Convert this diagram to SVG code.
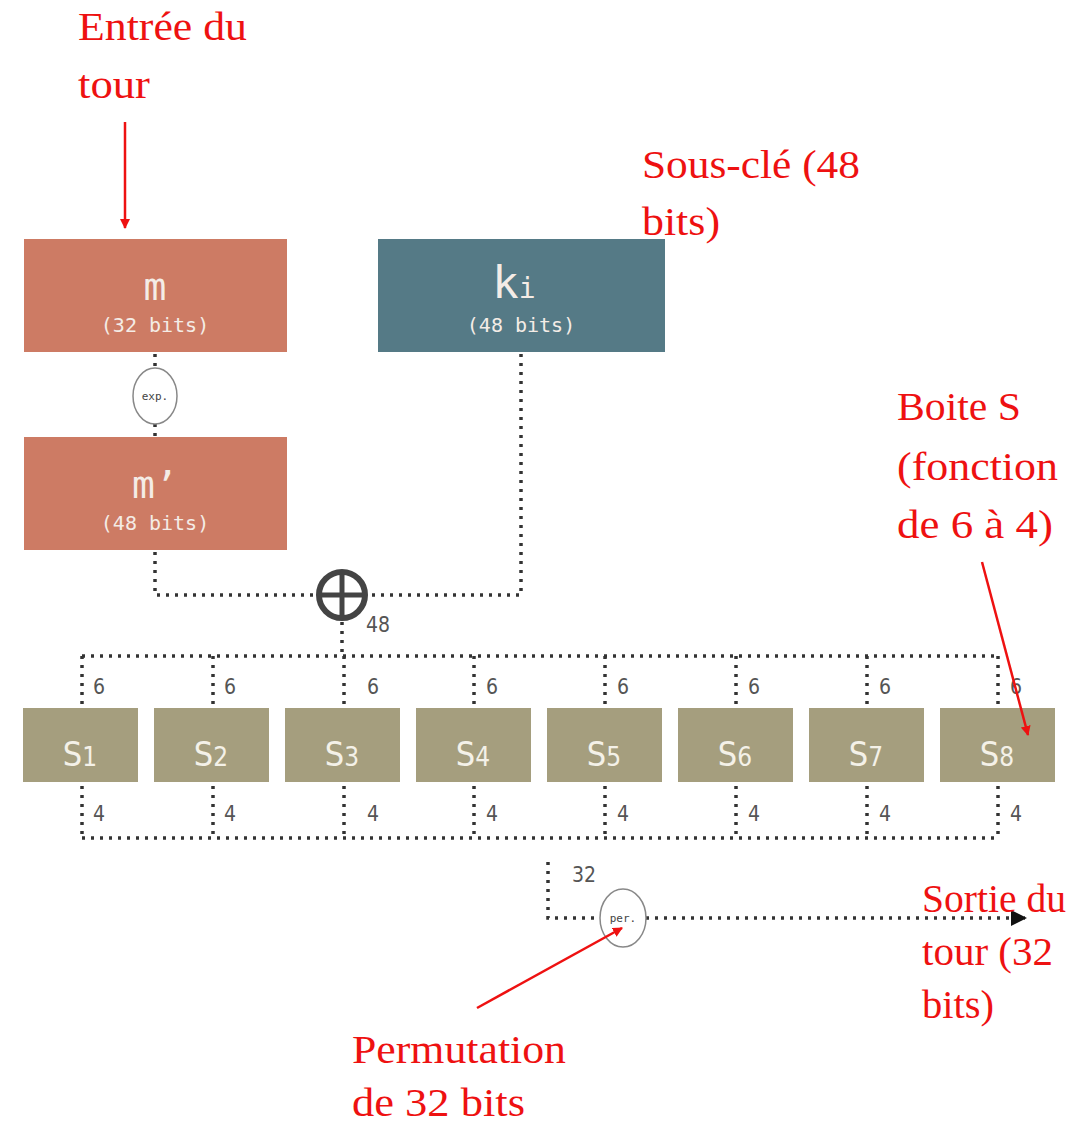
<svg xmlns="http://www.w3.org/2000/svg" width="1084" height="1124" viewBox="0 0 1084 1124">
<style>
.ann{font-family:"Liberation Serif",serif;font-size:39px;fill:#ee1111}
.big{font-family:"DejaVu Sans Mono",monospace;fill:#f4ece6;text-anchor:middle}
.sub{font-family:"DejaVu Sans Mono",monospace;font-size:20px;fill:#f4ece6;text-anchor:middle}
.lbl{font-family:"DejaVu Sans Condensed","Liberation Sans",sans-serif;font-size:21px;fill:#555}
.dot{fill:none;stroke:#333;stroke-width:3.5;stroke-dasharray:3 6}
.sbox{fill:#a59e7e}
.stxt{font-family:"DejaVu Sans Condensed",sans-serif;font-size:34px;fill:#f4f1e8;text-anchor:middle}
.red{stroke:#ee1111;stroke-width:2.5;fill:none}
</style>
<defs>
<marker id="ra" markerWidth="10" markerHeight="10" refX="9" refY="5" orient="auto" markerUnits="userSpaceOnUse" viewBox="0 0 10 10"><path d="M0,0 L10,5 L0,10 z" fill="#ee1111"/></marker>
<marker id="ba" markerWidth="16" markerHeight="16" refX="14" refY="8" orient="auto" markerUnits="userSpaceOnUse" viewBox="0 0 16 16"><path d="M0,0 L16,8 L0,16 z" fill="#111"/></marker>
</defs>
<g id="connectors">
<polyline class="dot" points="155,552 155,595 317,595"/>
<polyline class="dot" points="521,354 521,595 367,595"/>
<line class="dot" x1="155" y1="354" x2="155" y2="368"/>
<line class="dot" x1="155" y1="424" x2="155" y2="436"/>
<line class="dot" x1="342" y1="622" x2="342" y2="656"/>
<line class="dot" x1="82" y1="656" x2="1000" y2="656"/>
<g id="in-lines">
<line class="dot" x1="82" y1="656" x2="82" y2="705"/>
<line class="dot" x1="213" y1="656" x2="213" y2="705"/>
<line class="dot" x1="344" y1="656" x2="344" y2="705"/>
<line class="dot" x1="474" y1="656" x2="474" y2="705"/>
<line class="dot" x1="605" y1="656" x2="605" y2="705"/>
<line class="dot" x1="736" y1="656" x2="736" y2="705"/>
<line class="dot" x1="867" y1="656" x2="867" y2="705"/>
<line class="dot" x1="998" y1="656" x2="998" y2="705"/>
</g>
<g id="out-lines">
<line class="dot" x1="82" y1="786" x2="82" y2="838"/>
<line class="dot" x1="213" y1="786" x2="213" y2="838"/>
<line class="dot" x1="344" y1="786" x2="344" y2="838"/>
<line class="dot" x1="474" y1="786" x2="474" y2="838"/>
<line class="dot" x1="605" y1="786" x2="605" y2="838"/>
<line class="dot" x1="736" y1="786" x2="736" y2="838"/>
<line class="dot" x1="867" y1="786" x2="867" y2="838"/>
<line class="dot" x1="998" y1="786" x2="998" y2="838"/>
</g>
<line class="dot" x1="82" y1="838" x2="1000" y2="838"/>
<polyline class="dot" points="548,862 548,918 600,918"/>
<line class="dot" x1="646" y1="918" x2="1025" y2="918" marker-end="url(#ba)"/>
<g id="labels">
<text class="lbl" x="366" y="632">48</text>
<text class="lbl" x="93" y="694">6</text><text class="lbl" x="224" y="694">6</text><text class="lbl" x="367" y="694">6</text><text class="lbl" x="486" y="694">6</text><text class="lbl" x="617" y="694">6</text><text class="lbl" x="748" y="694">6</text><text class="lbl" x="879" y="694">6</text><text class="lbl" x="1010" y="694">6</text>
<text class="lbl" x="93" y="821">4</text><text class="lbl" x="224" y="821">4</text><text class="lbl" x="367" y="821">4</text><text class="lbl" x="486" y="821">4</text><text class="lbl" x="617" y="821">4</text><text class="lbl" x="748" y="821">4</text><text class="lbl" x="879" y="821">4</text><text class="lbl" x="1010" y="821">4</text>
<text class="lbl" x="572" y="882">32</text>
</g>
</g>
<g id="m"><rect x="24" y="239" width="263" height="113" fill="#cd7b64"/><text class="big" x="155" y="300" font-size="38">m</text><text class="sub" x="155" y="332">(32 bits)</text></g>
<g id="ki"><rect x="378" y="239" width="287" height="113" fill="#557a86"/><text class="big" x="514" y="298" font-size="44">k<tspan font-size="28">i</tspan></text><text class="sub" x="521" y="332">(48 bits)</text></g>
<g id="exp"><ellipse cx="155" cy="396" rx="22" ry="28" fill="#fff" stroke="#888" stroke-width="1.5"/><text x="155" y="400" font-family="DejaVu Sans Mono,monospace" font-size="11" text-anchor="middle" fill="#444">exp.</text></g>
<g id="mprime"><rect x="24" y="437" width="263" height="113" fill="#cd7b64"/><text class="big" x="155" y="498" font-size="38">m’</text><text class="sub" x="155" y="530">(48 bits)</text></g>
<g id="xor"><circle cx="342" cy="595" r="23" fill="#fff" stroke="#444" stroke-width="6"/><line x1="342" y1="572" x2="342" y2="618" stroke="#444" stroke-width="5"/><line x1="319" y1="595" x2="365" y2="595" stroke="#444" stroke-width="5"/></g>
<g id="S1"><rect class="sbox" x="23" y="708" width="115" height="74"/><text class="stxt" x="80" y="766">S<tspan font-size="26">1</tspan></text></g>
<g id="S2"><rect class="sbox" x="154" y="708" width="115" height="74"/><text class="stxt" x="211" y="766">S<tspan font-size="26">2</tspan></text></g>
<g id="S3"><rect class="sbox" x="285" y="708" width="115" height="74"/><text class="stxt" x="342" y="766">S<tspan font-size="26">3</tspan></text></g>
<g id="S4"><rect class="sbox" x="416" y="708" width="115" height="74"/><text class="stxt" x="473" y="766">S<tspan font-size="26">4</tspan></text></g>
<g id="S5"><rect class="sbox" x="547" y="708" width="115" height="74"/><text class="stxt" x="604" y="766">S<tspan font-size="26">5</tspan></text></g>
<g id="S6"><rect class="sbox" x="678" y="708" width="115" height="74"/><text class="stxt" x="735" y="766">S<tspan font-size="26">6</tspan></text></g>
<g id="S7"><rect class="sbox" x="809" y="708" width="115" height="74"/><text class="stxt" x="866" y="766">S<tspan font-size="26">7</tspan></text></g>
<g id="S8"><rect class="sbox" x="940" y="708" width="115" height="74"/><text class="stxt" x="997" y="766">S<tspan font-size="26">8</tspan></text></g>
<g id="per"><ellipse cx="623" cy="918" rx="23" ry="29" fill="#fff" stroke="#888" stroke-width="1.5"/><text x="623" y="922" font-family="DejaVu Sans Mono,monospace" font-size="11" text-anchor="middle" fill="#444">per.</text></g>
<g id="annotations">
<text class="ann" x="78" y="40" textLength="169" lengthAdjust="spacingAndGlyphs">Entrée du</text><text class="ann" x="78" y="98" textLength="72" lengthAdjust="spacingAndGlyphs">tour</text>
<line class="red" x1="125" y1="122" x2="125" y2="228" marker-end="url(#ra)"/>
<text class="ann" x="642" y="178" textLength="218" lengthAdjust="spacingAndGlyphs">Sous-clé (48</text><text class="ann" x="642" y="235" textLength="78" lengthAdjust="spacingAndGlyphs">bits)</text>
<text class="ann" x="897" y="420" textLength="124" lengthAdjust="spacingAndGlyphs">Boite S</text><text class="ann" x="897" y="480" textLength="161" lengthAdjust="spacingAndGlyphs">(fonction</text><text class="ann" x="897" y="538" textLength="156" lengthAdjust="spacingAndGlyphs">de 6 à 4)</text>
<line class="red" x1="982" y1="562" x2="1028" y2="735" marker-end="url(#ra)"/>
<text class="ann" x="922" y="912" textLength="144" lengthAdjust="spacingAndGlyphs">Sortie du</text><text class="ann" x="922" y="965" textLength="131" lengthAdjust="spacingAndGlyphs">tour (32</text><text class="ann" x="922" y="1018" textLength="72" lengthAdjust="spacingAndGlyphs">bits)</text>
<text class="ann" x="352" y="1063" textLength="214" lengthAdjust="spacingAndGlyphs">Permutation</text><text class="ann" x="352" y="1116" textLength="173" lengthAdjust="spacingAndGlyphs">de 32 bits</text>
<line class="red" x1="477" y1="1008" x2="622" y2="928" marker-end="url(#ra)"/>
</g>
</svg>
